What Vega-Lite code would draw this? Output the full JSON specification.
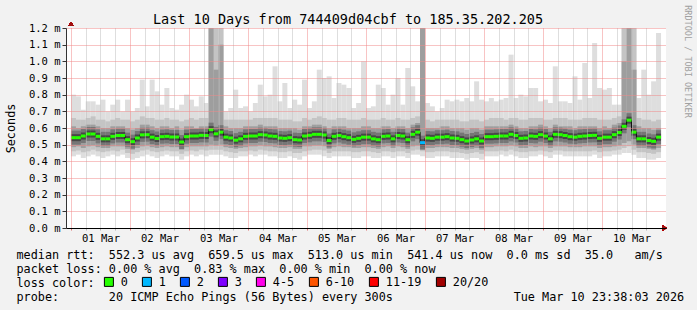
{
"$schema": "https://vega.github.io/schema/vega-lite/v6.json",
"width": 600, "height": 200,
"autosize": {"type": "none"},
"padding": {"left": 66, "top": 28, "right": 31, "bottom": 82},
"background": "#f2f2f2",
"config": {"view": {"fill": "#ffffff", "stroke": null}, "font": "DejaVu Sans Mono",
  "axis": {"labelFont": "DejaVu Sans Mono", "titleFont": "DejaVu Sans Mono", "titleFontWeight": "normal", "labelColor": "#000000", "titleColor": "#000000"}},
"title": {"text": "Last 10 Days from 744409d04cbf to 185.35.202.205", "font": "DejaVu Sans Mono", "fontSize": 13.5, "fontWeight": "normal", "color": "#000000", "anchor": "middle", "frame": "group", "dx": -18, "offset": -22},
"data": {"values": [
{"h":1,"lo1":0.43,"lo2":0.46,"lo3":0.485,"med":0.542,"hi3":0.61,"hi2":0.66,"hi1":0.80,"loss":"0"},
{"h":3,"lo1":0.44,"lo2":0.465,"lo3":0.49,"med":0.542,"hi3":0.60,"hi2":0.65,"hi1":0.79,"loss":"0"},
{"h":5,"lo1":0.42,"lo2":0.455,"lo3":0.48,"med":0.552,"hi3":0.61,"hi2":0.65,"hi1":0.71,"loss":"0"},
{"h":7,"lo1":0.43,"lo2":0.46,"lo3":0.49,"med":0.564,"hi3":0.62,"hi2":0.66,"hi1":0.76,"loss":"0"},
{"h":9,"lo1":0.44,"lo2":0.47,"lo3":0.495,"med":0.564,"hi3":0.62,"hi2":0.67,"hi1":0.76,"loss":"0"},
{"h":11,"lo1":0.43,"lo2":0.46,"lo3":0.485,"med":0.55,"hi3":0.61,"hi2":0.65,"hi1":0.74,"loss":"0"},
{"h":13,"lo1":0.42,"lo2":0.455,"lo3":0.48,"med":0.535,"hi3":0.60,"hi2":0.65,"hi1":0.77,"loss":"0"},
{"h":15,"lo1":0.43,"lo2":0.46,"lo3":0.48,"med":0.535,"hi3":0.60,"hi2":0.64,"hi1":0.70,"loss":"0"},
{"h":17,"lo1":0.44,"lo2":0.465,"lo3":0.49,"med":0.55,"hi3":0.61,"hi2":0.65,"hi1":0.74,"loss":"0"},
{"h":19,"lo1":0.43,"lo2":0.46,"lo3":0.49,"med":0.555,"hi3":0.61,"hi2":0.66,"hi1":0.77,"loss":"0"},
{"h":21,"lo1":0.44,"lo2":0.47,"lo3":0.49,"med":0.555,"hi3":0.61,"hi2":0.65,"hi1":0.70,"loss":"0"},
{"h":23,"lo1":0.42,"lo2":0.45,"lo3":0.475,"med":0.53,"hi3":0.60,"hi2":0.65,"hi1":0.77,"loss":"0"},
{"h":25,"lo1":0.41,"lo2":0.445,"lo3":0.47,"med":0.518,"hi3":0.59,"hi2":0.64,"hi1":0.70,"loss":"0"},
{"h":27,"lo1":0.42,"lo2":0.455,"lo3":0.48,"med":0.54,"hi3":0.60,"hi2":0.65,"hi1":0.72,"loss":"0"},
{"h":29,"lo1":0.43,"lo2":0.465,"lo3":0.49,"med":0.559,"hi3":0.62,"hi2":0.67,"hi1":0.89,"loss":"0"},
{"h":31,"lo1":0.44,"lo2":0.47,"lo3":0.495,"med":0.56,"hi3":0.62,"hi2":0.66,"hi1":0.73,"loss":"0"},
{"h":33,"lo1":0.43,"lo2":0.46,"lo3":0.485,"med":0.545,"hi3":0.61,"hi2":0.66,"hi1":0.89,"loss":"0"},
{"h":35,"lo1":0.42,"lo2":0.455,"lo3":0.48,"med":0.537,"hi3":0.60,"hi2":0.65,"hi1":0.82,"loss":"0"},
{"h":37,"lo1":0.43,"lo2":0.46,"lo3":0.485,"med":0.548,"hi3":0.61,"hi2":0.65,"hi1":0.74,"loss":"0"},
{"h":39,"lo1":0.44,"lo2":0.465,"lo3":0.49,"med":0.55,"hi3":0.61,"hi2":0.66,"hi1":0.84,"loss":"0"},
{"h":41,"lo1":0.43,"lo2":0.46,"lo3":0.485,"med":0.546,"hi3":0.60,"hi2":0.65,"hi1":0.72,"loss":"0"},
{"h":43,"lo1":0.43,"lo2":0.46,"lo3":0.485,"med":0.546,"hi3":0.61,"hi2":0.65,"hi1":0.71,"loss":"0"},
{"h":45,"lo1":0.41,"lo2":0.445,"lo3":0.47,"med":0.516,"hi3":0.59,"hi2":0.64,"hi1":0.74,"loss":"0"},
{"h":47,"lo1":0.43,"lo2":0.46,"lo3":0.485,"med":0.548,"hi3":0.61,"hi2":0.65,"hi1":0.80,"loss":"0"},
{"h":49,"lo1":0.44,"lo2":0.465,"lo3":0.49,"med":0.552,"hi3":0.61,"hi2":0.66,"hi1":0.77,"loss":"0"},
{"h":51,"lo1":0.43,"lo2":0.46,"lo3":0.49,"med":0.552,"hi3":0.60,"hi2":0.65,"hi1":0.73,"loss":"0"},
{"h":53,"lo1":0.44,"lo2":0.47,"lo3":0.49,"med":0.556,"hi3":0.61,"hi2":0.66,"hi1":0.79,"loss":"0"},
{"h":55,"lo1":0.43,"lo2":0.465,"lo3":0.49,"med":0.555,"hi3":0.61,"hi2":0.66,"hi1":0.75,"loss":"0"},
{"h":57,"lo1":0.44,"lo2":0.47,"lo3":0.50,"med":0.59,"hi3":1.3,"hi2":1.3,"hi1":1.3,"loss":"0"},
{"h":59,"lo1":0.44,"lo2":0.47,"lo3":0.495,"med":0.565,"hi3":0.95,"hi2":1.3,"hi1":1.3,"loss":"0"},
{"h":61,"lo1":0.44,"lo2":0.47,"lo3":0.50,"med":0.575,"hi3":1.1,"hi2":1.3,"hi1":1.3,"loss":"0"},
{"h":63,"lo1":0.43,"lo2":0.46,"lo3":0.485,"med":0.545,"hi3":0.61,"hi2":0.65,"hi1":0.70,"loss":"0"},
{"h":65,"lo1":0.42,"lo2":0.455,"lo3":0.48,"med":0.54,"hi3":0.60,"hi2":0.65,"hi1":0.72,"loss":"0"},
{"h":67,"lo1":0.42,"lo2":0.45,"lo3":0.475,"med":0.527,"hi3":0.60,"hi2":0.65,"hi1":0.83,"loss":"0"},
{"h":69,"lo1":0.43,"lo2":0.46,"lo3":0.48,"med":0.535,"hi3":0.60,"hi2":0.65,"hi1":0.72,"loss":"0"},
{"h":71,"lo1":0.43,"lo2":0.46,"lo3":0.485,"med":0.55,"hi3":0.61,"hi2":0.65,"hi1":0.73,"loss":"0"},
{"h":73,"lo1":0.44,"lo2":0.465,"lo3":0.49,"med":0.552,"hi3":0.61,"hi2":0.65,"hi1":0.70,"loss":"0"},
{"h":75,"lo1":0.43,"lo2":0.46,"lo3":0.49,"med":0.552,"hi3":0.61,"hi2":0.66,"hi1":0.75,"loss":"0"},
{"h":77,"lo1":0.44,"lo2":0.47,"lo3":0.495,"med":0.56,"hi3":0.62,"hi2":0.66,"hi1":0.86,"loss":"0"},
{"h":79,"lo1":0.44,"lo2":0.465,"lo3":0.49,"med":0.558,"hi3":0.61,"hi2":0.66,"hi1":0.79,"loss":"0"},
{"h":81,"lo1":0.43,"lo2":0.46,"lo3":0.49,"med":0.552,"hi3":0.61,"hi2":0.66,"hi1":0.80,"loss":"0"},
{"h":83,"lo1":0.43,"lo2":0.46,"lo3":0.485,"med":0.55,"hi3":0.61,"hi2":0.66,"hi1":0.97,"loss":"0"},
{"h":85,"lo1":0.42,"lo2":0.455,"lo3":0.48,"med":0.54,"hi3":0.60,"hi2":0.65,"hi1":0.76,"loss":"0"},
{"h":87,"lo1":0.42,"lo2":0.455,"lo3":0.48,"med":0.538,"hi3":0.60,"hi2":0.65,"hi1":0.87,"loss":"0"},
{"h":89,"lo1":0.43,"lo2":0.46,"lo3":0.485,"med":0.542,"hi3":0.60,"hi2":0.65,"hi1":0.72,"loss":"0"},
{"h":91,"lo1":0.42,"lo2":0.45,"lo3":0.475,"med":0.53,"hi3":0.60,"hi2":0.64,"hi1":0.77,"loss":"0"},
{"h":93,"lo1":0.41,"lo2":0.45,"lo3":0.475,"med":0.528,"hi3":0.59,"hi2":0.64,"hi1":0.74,"loss":"0"},
{"h":95,"lo1":0.43,"lo2":0.46,"lo3":0.49,"med":0.552,"hi3":0.61,"hi2":0.66,"hi1":0.89,"loss":"0"},
{"h":97,"lo1":0.44,"lo2":0.465,"lo3":0.49,"med":0.556,"hi3":0.61,"hi2":0.65,"hi1":0.72,"loss":"0"},
{"h":99,"lo1":0.44,"lo2":0.47,"lo3":0.495,"med":0.562,"hi3":0.62,"hi2":0.66,"hi1":0.76,"loss":"0"},
{"h":101,"lo1":0.44,"lo2":0.47,"lo3":0.495,"med":0.562,"hi3":0.62,"hi2":0.67,"hi1":0.95,"loss":"0"},
{"h":103,"lo1":0.43,"lo2":0.465,"lo3":0.49,"med":0.558,"hi3":0.61,"hi2":0.66,"hi1":0.90,"loss":"0"},
{"h":105,"lo1":0.42,"lo2":0.45,"lo3":0.475,"med":0.525,"hi3":0.60,"hi2":0.65,"hi1":0.91,"loss":"0"},
{"h":107,"lo1":0.43,"lo2":0.46,"lo3":0.485,"med":0.55,"hi3":0.61,"hi2":0.65,"hi1":0.78,"loss":"0"},
{"h":109,"lo1":0.43,"lo2":0.46,"lo3":0.49,"med":0.555,"hi3":0.61,"hi2":0.66,"hi1":0.87,"loss":"0"},
{"h":111,"lo1":0.43,"lo2":0.46,"lo3":0.485,"med":0.548,"hi3":0.61,"hi2":0.66,"hi1":0.86,"loss":"0"},
{"h":113,"lo1":0.43,"lo2":0.46,"lo3":0.485,"med":0.542,"hi3":0.60,"hi2":0.65,"hi1":0.84,"loss":"0"},
{"h":115,"lo1":0.42,"lo2":0.455,"lo3":0.48,"med":0.532,"hi3":0.60,"hi2":0.65,"hi1":0.72,"loss":"0"},
{"h":117,"lo1":0.42,"lo2":0.455,"lo3":0.48,"med":0.538,"hi3":0.60,"hi2":0.65,"hi1":0.75,"loss":"0"},
{"h":119,"lo1":0.43,"lo2":0.46,"lo3":0.485,"med":0.545,"hi3":0.61,"hi2":0.66,"hi1":1.0,"loss":"0"},
{"h":121,"lo1":0.43,"lo2":0.46,"lo3":0.485,"med":0.545,"hi3":0.61,"hi2":0.65,"hi1":0.72,"loss":"0"},
{"h":123,"lo1":0.42,"lo2":0.455,"lo3":0.48,"med":0.535,"hi3":0.60,"hi2":0.65,"hi1":0.73,"loss":"0"},
{"h":125,"lo1":0.42,"lo2":0.45,"lo3":0.475,"med":0.53,"hi3":0.60,"hi2":0.65,"hi1":0.86,"loss":"0"},
{"h":127,"lo1":0.43,"lo2":0.46,"lo3":0.485,"med":0.55,"hi3":0.61,"hi2":0.66,"hi1":0.84,"loss":"0"},
{"h":129,"lo1":0.43,"lo2":0.46,"lo3":0.49,"med":0.552,"hi3":0.61,"hi2":0.65,"hi1":0.74,"loss":"0"},
{"h":131,"lo1":0.42,"lo2":0.455,"lo3":0.48,"med":0.535,"hi3":0.60,"hi2":0.65,"hi1":0.80,"loss":"0"},
{"h":133,"lo1":0.43,"lo2":0.46,"lo3":0.49,"med":0.555,"hi3":0.61,"hi2":0.66,"hi1":0.90,"loss":"0"},
{"h":135,"lo1":0.43,"lo2":0.46,"lo3":0.485,"med":0.552,"hi3":0.61,"hi2":0.65,"hi1":0.74,"loss":"0"},
{"h":137,"lo1":0.42,"lo2":0.45,"lo3":0.475,"med":0.53,"hi3":0.60,"hi2":0.65,"hi1":0.96,"loss":"0"},
{"h":139,"lo1":0.44,"lo2":0.465,"lo3":0.49,"med":0.562,"hi3":0.62,"hi2":0.66,"hi1":0.85,"loss":"0"},
{"h":141,"lo1":0.44,"lo2":0.47,"lo3":0.495,"med":0.575,"hi3":0.63,"hi2":0.67,"hi1":0.76,"loss":"0"},
{"h":143,"lo1":0.43,"lo2":0.46,"lo3":0.48,"med":0.512,"hi3":1.3,"hi2":1.3,"hi1":1.3,"loss":"1"},
{"h":145,"lo1":0.42,"lo2":0.455,"lo3":0.48,"med":0.54,"hi3":0.60,"hi2":0.65,"hi1":0.75,"loss":"0"},
{"h":147,"lo1":0.42,"lo2":0.455,"lo3":0.48,"med":0.538,"hi3":0.60,"hi2":0.64,"hi1":0.73,"loss":"0"},
{"h":149,"lo1":0.43,"lo2":0.46,"lo3":0.485,"med":0.545,"hi3":0.60,"hi2":0.65,"hi1":0.70,"loss":"0"},
{"h":151,"lo1":0.43,"lo2":0.46,"lo3":0.485,"med":0.545,"hi3":0.61,"hi2":0.65,"hi1":0.72,"loss":"0"},
{"h":153,"lo1":0.43,"lo2":0.46,"lo3":0.485,"med":0.548,"hi3":0.61,"hi2":0.65,"hi1":0.77,"loss":"0"},
{"h":155,"lo1":0.42,"lo2":0.455,"lo3":0.48,"med":0.54,"hi3":0.60,"hi2":0.65,"hi1":0.76,"loss":"0"},
{"h":157,"lo1":0.42,"lo2":0.455,"lo3":0.48,"med":0.538,"hi3":0.60,"hi2":0.65,"hi1":0.77,"loss":"0"},
{"h":159,"lo1":0.42,"lo2":0.45,"lo3":0.475,"med":0.53,"hi3":0.60,"hi2":0.64,"hi1":0.76,"loss":"0"},
{"h":161,"lo1":0.41,"lo2":0.445,"lo3":0.47,"med":0.522,"hi3":0.59,"hi2":0.64,"hi1":0.78,"loss":"0"},
{"h":163,"lo1":0.42,"lo2":0.45,"lo3":0.475,"med":0.528,"hi3":0.60,"hi2":0.65,"hi1":0.76,"loss":"0"},
{"h":165,"lo1":0.42,"lo2":0.455,"lo3":0.48,"med":0.535,"hi3":0.60,"hi2":0.65,"hi1":0.88,"loss":"0"},
{"h":167,"lo1":0.41,"lo2":0.445,"lo3":0.47,"med":0.522,"hi3":0.59,"hi2":0.64,"hi1":0.77,"loss":"0"},
{"h":169,"lo1":0.43,"lo2":0.46,"lo3":0.485,"med":0.548,"hi3":0.61,"hi2":0.65,"hi1":0.76,"loss":"0"},
{"h":171,"lo1":0.43,"lo2":0.46,"lo3":0.485,"med":0.548,"hi3":0.61,"hi2":0.66,"hi1":0.78,"loss":"0"},
{"h":173,"lo1":0.43,"lo2":0.46,"lo3":0.49,"med":0.55,"hi3":0.61,"hi2":0.66,"hi1":0.76,"loss":"0"},
{"h":175,"lo1":0.44,"lo2":0.465,"lo3":0.49,"med":0.552,"hi3":0.61,"hi2":0.66,"hi1":0.77,"loss":"0"},
{"h":177,"lo1":0.43,"lo2":0.46,"lo3":0.49,"med":0.552,"hi3":0.61,"hi2":0.65,"hi1":0.78,"loss":"0"},
{"h":179,"lo1":0.44,"lo2":0.47,"lo3":0.495,"med":0.562,"hi3":0.62,"hi2":0.66,"hi1":1.04,"loss":"0"},
{"h":181,"lo1":0.43,"lo2":0.46,"lo3":0.49,"med":0.555,"hi3":0.61,"hi2":0.66,"hi1":0.78,"loss":"0"},
{"h":183,"lo1":0.42,"lo2":0.455,"lo3":0.48,"med":0.538,"hi3":0.60,"hi2":0.65,"hi1":0.80,"loss":"0"},
{"h":185,"lo1":0.42,"lo2":0.455,"lo3":0.48,"med":0.54,"hi3":0.60,"hi2":0.65,"hi1":0.79,"loss":"0"},
{"h":187,"lo1":0.43,"lo2":0.46,"lo3":0.49,"med":0.552,"hi3":0.61,"hi2":0.66,"hi1":0.84,"loss":"0"},
{"h":189,"lo1":0.43,"lo2":0.46,"lo3":0.485,"med":0.55,"hi3":0.61,"hi2":0.66,"hi1":0.84,"loss":"0"},
{"h":191,"lo1":0.44,"lo2":0.465,"lo3":0.49,"med":0.56,"hi3":0.62,"hi2":0.66,"hi1":0.76,"loss":"0"},
{"h":193,"lo1":0.43,"lo2":0.46,"lo3":0.49,"med":0.552,"hi3":0.61,"hi2":0.65,"hi1":0.77,"loss":"0"},
{"h":195,"lo1":0.42,"lo2":0.455,"lo3":0.48,"med":0.535,"hi3":0.60,"hi2":0.65,"hi1":0.75,"loss":"0"},
{"h":197,"lo1":0.44,"lo2":0.465,"lo3":0.49,"med":0.562,"hi3":0.62,"hi2":0.66,"hi1":0.97,"loss":"0"},
{"h":199,"lo1":0.44,"lo2":0.465,"lo3":0.49,"med":0.56,"hi3":0.61,"hi2":0.66,"hi1":0.76,"loss":"0"},
{"h":201,"lo1":0.43,"lo2":0.46,"lo3":0.49,"med":0.555,"hi3":0.61,"hi2":0.66,"hi1":0.76,"loss":"0"},
{"h":203,"lo1":0.43,"lo2":0.46,"lo3":0.485,"med":0.548,"hi3":0.61,"hi2":0.65,"hi1":0.75,"loss":"0"},
{"h":205,"lo1":0.43,"lo2":0.46,"lo3":0.485,"med":0.545,"hi3":0.60,"hi2":0.65,"hi1":0.91,"loss":"0"},
{"h":207,"lo1":0.43,"lo2":0.46,"lo3":0.485,"med":0.55,"hi3":0.61,"hi2":0.65,"hi1":0.77,"loss":"0"},
{"h":209,"lo1":0.43,"lo2":0.46,"lo3":0.49,"med":0.552,"hi3":0.61,"hi2":0.66,"hi1":0.99,"loss":"0"},
{"h":211,"lo1":0.43,"lo2":0.46,"lo3":0.49,"med":0.555,"hi3":0.61,"hi2":0.66,"hi1":0.78,"loss":"0"},
{"h":213,"lo1":0.44,"lo2":0.465,"lo3":0.49,"med":0.556,"hi3":0.61,"hi2":0.66,"hi1":1.11,"loss":"0"},
{"h":215,"lo1":0.42,"lo2":0.455,"lo3":0.48,"med":0.538,"hi3":0.60,"hi2":0.65,"hi1":0.84,"loss":"0"},
{"h":217,"lo1":0.43,"lo2":0.46,"lo3":0.485,"med":0.545,"hi3":0.61,"hi2":0.65,"hi1":0.83,"loss":"0"},
{"h":219,"lo1":0.43,"lo2":0.46,"lo3":0.485,"med":0.545,"hi3":0.60,"hi2":0.65,"hi1":0.84,"loss":"0"},
{"h":221,"lo1":0.44,"lo2":0.465,"lo3":0.49,"med":0.56,"hi3":0.62,"hi2":0.66,"hi1":0.74,"loss":"0"},
{"h":223,"lo1":0.44,"lo2":0.47,"lo3":0.495,"med":0.573,"hi3":0.63,"hi2":0.67,"hi1":0.74,"loss":"0"},
{"h":225,"lo1":0.45,"lo2":0.48,"lo3":0.51,"med":0.61,"hi3":1.0,"hi2":1.3,"hi1":1.3,"loss":"0"},
{"h":227,"lo1":0.45,"lo2":0.49,"lo3":0.52,"med":0.647,"hi3":1.3,"hi2":1.3,"hi1":1.3,"loss":"0"},
{"h":229,"lo1":0.44,"lo2":0.47,"lo3":0.50,"med":0.575,"hi3":0.95,"hi2":1.3,"hi1":1.3,"loss":"0"},
{"h":231,"lo1":0.42,"lo2":0.455,"lo3":0.48,"med":0.535,"hi3":0.61,"hi2":0.66,"hi1":0.78,"loss":"0"},
{"h":233,"lo1":0.42,"lo2":0.455,"lo3":0.48,"med":0.535,"hi3":0.60,"hi2":0.65,"hi1":0.95,"loss":"0"},
{"h":235,"lo1":0.41,"lo2":0.45,"lo3":0.475,"med":0.525,"hi3":0.60,"hi2":0.65,"hi1":0.80,"loss":"0"},
{"h":237,"lo1":0.41,"lo2":0.445,"lo3":0.47,"med":0.52,"hi3":0.59,"hi2":0.64,"hi1":0.88,"loss":"0"},
{"h":239,"lo1":0.42,"lo2":0.455,"lo3":0.48,"med":0.545,"hi3":0.60,"hi2":0.65,"hi1":1.17,"loss":"0"}
]},
"encoding": {
  "x": {"field": "h", "type": "quantitative",
    "scale": {"domain": [0, 240], "nice": false, "zero": false},
    "axis": {
      "values": [0,6,12,18,24,30,36,42,48,54,60,66,72,78,84,90,96,102,108,114,120,126,132,138,144,150,156,162,168,174,180,186,192,198,204,210,216,222,228,234],
      "labelExpr": "datum.value % 24 == 12 ? (datum.value < 216 ? '0' : '') + (floor(datum.value / 24) + 1) + ' Mar' : ''",
      "labelFontSize": 10.5, "labelPadding": 3, "labelOverlap": false, "labelFlush": false, "labelBound": false,
      "tickSize": 2,
      "tickColor": {"condition": {"test": "datum.value % 24 == 0", "value": "#e07070"}, "value": "#b4b4b4"},
      "grid": true,
      "gridColor": {"condition": {"test": "datum.value % 24 == 0", "value": "#f08888"}, "value": "#bdbdbd"},
      "gridDash": [1, 1], "gridWidth": 1,
      "domainColor": "#000000", "domainWidth": 1,
      "zindex": 1,
      "title": [
        "median rtt:\u00a0\u00a0552.3 us avg\u00a0\u00a0659.5 us max\u00a0\u00a0513.0 us min\u00a0\u00a0541.4 us now\u00a0\u00a00.0 ms sd\u00a0\u00a035.0\u00a0\u00a0\u00a0am/s",
        "packet loss: 0.00 % avg\u00a0\u00a00.83 % max\u00a0\u00a00.00 % min\u00a0\u00a00.00 % now",
        "loss color:",
        "probe:\u00a0\u00a0\u00a0\u00a0\u00a0\u00a0\u00a020 ICMP Echo Pings (56 Bytes) every 300s\u00a0\u00a0\u00a0\u00a0\u00a0\u00a0\u00a0\u00a0\u00a0\u00a0\u00a0\u00a0\u00a0\u00a0\u00a0\u00a0\u00a0Tue Mar 10 23:38:03 2026"
      ],
      "titleX": -50, "titleY": 30, "titleAlign": "left", "titleAnchor": "start", "titleBaseline": "alphabetic",
      "titleLineHeight": 14, "titleFontSize": 11.8, "titleFontWeight": "normal", "titleColor": "#000000", "titleLimit": 1000
    }
  }
},
"layer": [
  {"mark": {"type": "bar", "orient": "vertical", "width": 5, "color": "#dedede", "clip": true},
   "encoding": {
     "y": {"field": "lo1", "type": "quantitative", "scale": {"domain": [0, 1.2], "nice": false},
       "axis": {"values": [0,0.1,0.2,0.3,0.4,0.5,0.6,0.7,0.8,0.9,1.0,1.1,1.2],
         "labelExpr": "format(datum.value, '.1f') + ' m'",
         "labelFontSize": 10.5, "labelPadding": 2, "labelOverlap": false, "labelFlush": false,
         "tickSize": 4, "tickColor": "#333333", "domainColor": "#333333",
         "grid": true, "gridColor": "#f08888", "gridDash": [1, 1], "zindex": 1,
         "title": "Seconds", "titleX": -56, "titleY": 100, "titleAngle": -90, "titleAlign": "center", "titleBaseline": "middle",
         "titleFontSize": 11.8, "titleFontWeight": "normal", "titleColor": "#000000"}},
     "y2": {"field": "hi1"}}},
  {"mark": {"type": "bar", "orient": "vertical", "width": 5, "color": "#c4c4c4", "clip": true},
   "encoding": {
     "y": {"field": "lo2", "type": "quantitative", "scale": {"domain": [0, 1.2], "nice": false},
       "axis": {"orient": "right", "labels": false, "ticks": false, "domain": false, "grid": false,
         "title": "RRDTOOL / TOBI OETIKER", "titleX": 21, "titleY": 33, "titleAngle": 90, "titleAlign": "center", "titleBaseline": "middle",
         "titleFontSize": 8.5, "titleFontWeight": "normal", "titleColor": "#a0a0a0"}},
     "y2": {"field": "hi2"}}},
  {"mark": {"type": "bar", "orient": "vertical", "width": 5, "color": "#9e9e9e", "clip": true},
   "encoding": {
     "y": {"field": "lo3", "type": "quantitative", "scale": {"domain": [0, 1.2], "nice": false}, "axis": null},
     "y2": {"field": "hi3"}}},
  {"mark": {"type": "tick", "orient": "horizontal", "size": 5, "thickness": 14, "color": "#767676", "opacity": 1, "clip": true},
   "encoding": {"y": {"field": "med", "type": "quantitative", "scale": {"domain": [0, 1.2], "nice": false}, "axis": null}}},
  {"mark": {"type": "tick", "orient": "horizontal", "size": 5, "thickness": 7, "color": "#474747", "opacity": 1, "clip": true},
   "encoding": {"y": {"field": "med", "type": "quantitative", "scale": {"domain": [0, 1.2], "nice": false}, "axis": null}}},
  {"mark": {"type": "line", "interpolate": "step", "color": "#111111", "strokeWidth": 1, "clip": true},
   "encoding": {"y": {"field": "med", "type": "quantitative", "scale": {"domain": [0, 1.2], "nice": false}, "axis": null}}},
  {"mark": {"type": "tick", "orient": "horizontal", "size": 5, "thickness": 3, "opacity": 1, "clip": true},
   "encoding": {
     "y": {"field": "med", "type": "quantitative", "scale": {"domain": [0, 1.2], "nice": false}, "axis": null},
     "color": {"field": "loss", "type": "nominal",
       "scale": {"domain": ["0","1","2","3","4-5","6-10","11-19","20/20"],
                 "range": ["#26ff00","#00b8ff","#0059ff","#7e00ff","#ff00ea","#ff5500","#ff0000","#a10000"]},
       "legend": {"orient": "none", "legendX": 37, "legendY": 248, "direction": "horizontal", "columns": 8,
         "title": null,
         "labelFont": "DejaVu Sans Mono", "labelFontSize": 11.8, "labelColor": "#000000", "labelOffset": 6,
         "symbolType": "square", "symbolSize": 81, "symbolStrokeColor": "#000000", "symbolStrokeWidth": 1, "symbolOpacity": 1,
         "columnPadding": 12, "padding": 0, "gridAlign": "none"}}}},
  {"mark": {"type": "point", "shape": "triangle-up", "filled": true, "color": "#a01010", "size": 22, "opacity": 1, "clip": false},
   "encoding": {"x": {"datum": 0}, "y": {"datum": 1.224, "scale": {"domain": [0, 1.2], "nice": false}, "axis": null}}},
  {"mark": {"type": "point", "shape": "triangle-right", "filled": true, "color": "#a01010", "size": 22, "opacity": 1, "clip": false},
   "encoding": {"x": {"datum": 241.6}, "y": {"datum": 0, "scale": {"domain": [0, 1.2], "nice": false}, "axis": null}}}
],
"resolve": {"axis": {"y": "independent"}}
}
